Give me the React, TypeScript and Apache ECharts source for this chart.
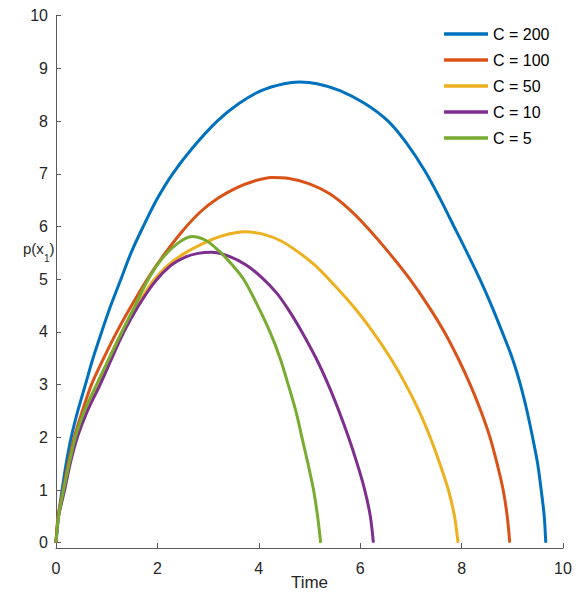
import React, { useEffect, useRef } from 'react';
import * as echarts from 'echarts';

const seriesNames = ['C = 200', 'C = 100', 'C = 50', 'C = 10', 'C = 5'];
const colors = ['#0072BD', '#D95319', '#EDB120', '#7E2F8E', '#77AC30'];

const c200: [number, number][] = [
  [0, 0], [0.05, 0.5], [0.12, 1], [0.2, 1.5], [0.3, 2], [0.43, 2.5], [0.58, 3], [0.73, 3.5],
  [0.9, 4], [1.08, 4.5], [1.28, 5], [1.48, 5.5], [1.72, 6], [1.98, 6.5], [2.3, 7], [2.7, 7.5],
  [3.18, 8], [3.6, 8.33], [4.05, 8.58], [4.5, 8.71], [4.8, 8.74], [5.15, 8.71], [5.6, 8.58],
  [6.1, 8.33], [6.55, 8.0], [6.9, 7.6], [7.28, 7.05], [7.58, 6.52], [7.85, 6.0], [8.11, 5.5],
  [8.36, 5.0], [8.59, 4.5], [8.8, 4.0], [9.0, 3.5], [9.16, 3.0], [9.29, 2.5], [9.4, 2.0],
  [9.5, 1.5], [9.57, 1.0], [9.63, 0.5], [9.66, 0],
];
const c100: [number, number][] = [
  [0, 0], [0.04, 0.5], [0.14, 1], [0.24, 1.5], [0.36, 2], [0.52, 2.5], [0.7, 3], [0.94, 3.5],
  [1.2, 4], [1.49, 4.5], [1.8, 5], [2.12, 5.45], [2.5, 5.92], [2.85, 6.28], [3.2, 6.54],
  [3.55, 6.73], [3.9, 6.86], [4.25, 6.93], [4.6, 6.91], [5.0, 6.81], [5.4, 6.62], [5.78, 6.33],
  [6.12, 6.0], [6.57, 5.5], [6.98, 5.0], [7.34, 4.5], [7.66, 4.0], [7.93, 3.5], [8.17, 3.0],
  [8.38, 2.5], [8.56, 2.0], [8.7, 1.5], [8.82, 1.0], [8.9, 0.5], [8.95, 0],
];
const c50: [number, number][] = [
  [0, 0], [0.05, 0.5], [0.16, 1], [0.27, 1.5], [0.4, 2], [0.6, 2.5], [0.83, 3], [1.05, 3.5],
  [1.3, 4], [1.6, 4.5], [1.9, 4.95], [2.2, 5.26], [2.55, 5.5], [2.95, 5.7], [3.3, 5.83],
  [3.72, 5.9], [4.1, 5.85], [4.45, 5.72], [4.8, 5.5], [5.1, 5.27], [5.4, 4.98], [5.85, 4.5],
  [6.25, 4.0], [6.6, 3.5], [6.9, 3.0], [7.16, 2.5], [7.38, 2.0], [7.57, 1.5], [7.74, 1.0],
  [7.86, 0.5], [7.93, 0],
];
const c10: [number, number][] = [
  [0, 0], [0.05, 0.5], [0.17, 1], [0.28, 1.5], [0.42, 2], [0.62, 2.5], [0.87, 3], [1.1, 3.5],
  [1.34, 4], [1.63, 4.5], [1.95, 4.95], [2.25, 5.25], [2.55, 5.42], [2.8, 5.49], [3.07, 5.51],
  [3.43, 5.43], [3.75, 5.27], [4.05, 5.04], [4.35, 4.74], [4.6, 4.4], [4.85, 4.0], [5.13, 3.5],
  [5.37, 3.0], [5.58, 2.5], [5.77, 2.0], [5.94, 1.5], [6.09, 1.0], [6.2, 0.5], [6.26, 0],
];
const c5: [number, number][] = [
  [0, 0], [0.05, 0.5], [0.15, 1], [0.26, 1.5], [0.38, 2], [0.56, 2.5], [0.8, 3], [1.05, 3.5],
  [1.3, 4], [1.56, 4.5], [1.82, 5], [2.1, 5.4], [2.4, 5.68], [2.68, 5.81], [2.95, 5.74],
  [3.2, 5.55], [3.45, 5.3], [3.7, 5.0], [3.95, 4.55], [4.22, 4.0], [4.42, 3.5], [4.58, 3.0],
  [4.73, 2.5], [4.85, 2.0], [4.97, 1.5], [5.08, 1.0], [5.16, 0.5], [5.22, 0],
];
const seriesData = [c200, c100, c50, c10, c5];

const yTicks = [0, 1, 2, 3, 4, 5, 6, 7, 8, 9, 10];

const FONT = '"Liberation Sans", Arial, Helvetica, sans-serif';
const AXIS_COLOR = '#5a5a5a';
const TEXT_COLOR = '#262626';

export default function App() {
  const ref = useRef<HTMLDivElement>(null);
  useEffect(() => {
    if (!ref.current) return;
    const chart = echarts.init(ref.current, null, { renderer: 'svg' });
    chart.setOption({
      animation: false,
      backgroundColor: '#ffffff',
      textStyle: { fontFamily: FONT },
      grid: { left: 56, right: 21, top: 15.7, bottom: 46, containLabel: false, outerBoundsMode: 'none' },
      legend: {
        orient: 'vertical',
        left: 439,
        top: 21,
        icon: 'rect',
        itemWidth: 44,
        itemHeight: 3.5,
        itemGap: 10,
        data: seriesNames,
        textStyle: { fontSize: 16, color: '#000', fontFamily: FONT },
      },
      xAxis: {
        type: 'value',
        min: 0,
        max: 10,
        interval: 2,
        axisLine: { onZero: false, lineStyle: { color: AXIS_COLOR, width: 1 } },
        axisTick: { inside: true, length: 5, lineStyle: { color: AXIS_COLOR, width: 1 } },
        axisLabel: { fontSize: 16, color: TEXT_COLOR, margin: 12, fontFamily: FONT },
        splitLine: { show: false },
      },
      yAxis: {
        type: 'value',
        min: -0.1,
        max: 10,
        axisLine: { show: true, onZero: false, lineStyle: { color: AXIS_COLOR, width: 1 } },
        axisTick: { show: true, inside: true, length: 5, customValues: yTicks, lineStyle: { color: AXIS_COLOR, width: 1 } },
        axisLabel: { fontSize: 16, color: TEXT_COLOR, margin: 8, customValues: yTicks, fontFamily: FONT },
        splitLine: { show: false },
      },
      graphic: [
        {
          type: 'text',
          x: 309.5,
          y: 582,
          style: { text: 'Time', font: `17px ${FONT}`, fill: TEXT_COLOR, textAlign: 'center', textVerticalAlign: 'middle' },
        },
        { type: 'text', left: 23, top: 241, style: { text: 'p(x', font: `15px ${FONT}`, fill: TEXT_COLOR } },
        { type: 'text', left: 44, top: 253, style: { text: '1', font: `10px ${FONT}`, fill: TEXT_COLOR } },
        { type: 'text', left: 49.6, top: 241, style: { text: ')', font: `15px ${FONT}`, fill: TEXT_COLOR } },
      ],
      series: seriesData.map((d, i) => ({
        name: seriesNames[i],
        type: 'line',
        data: d,
        symbol: 'none',
        showSymbol: false,
        smooth: 0.3,
        clip: false,
        lineStyle: { width: 3, color: colors[i] },
        itemStyle: { color: colors[i] },
      })),
    });
    return () => chart.dispose();
  }, []);
  return (
    <div
      ref={ref}
      style={{ position: 'fixed', left: 0, top: 0, width: 584, height: 594, background: '#fff' }}
    />
  );
}
